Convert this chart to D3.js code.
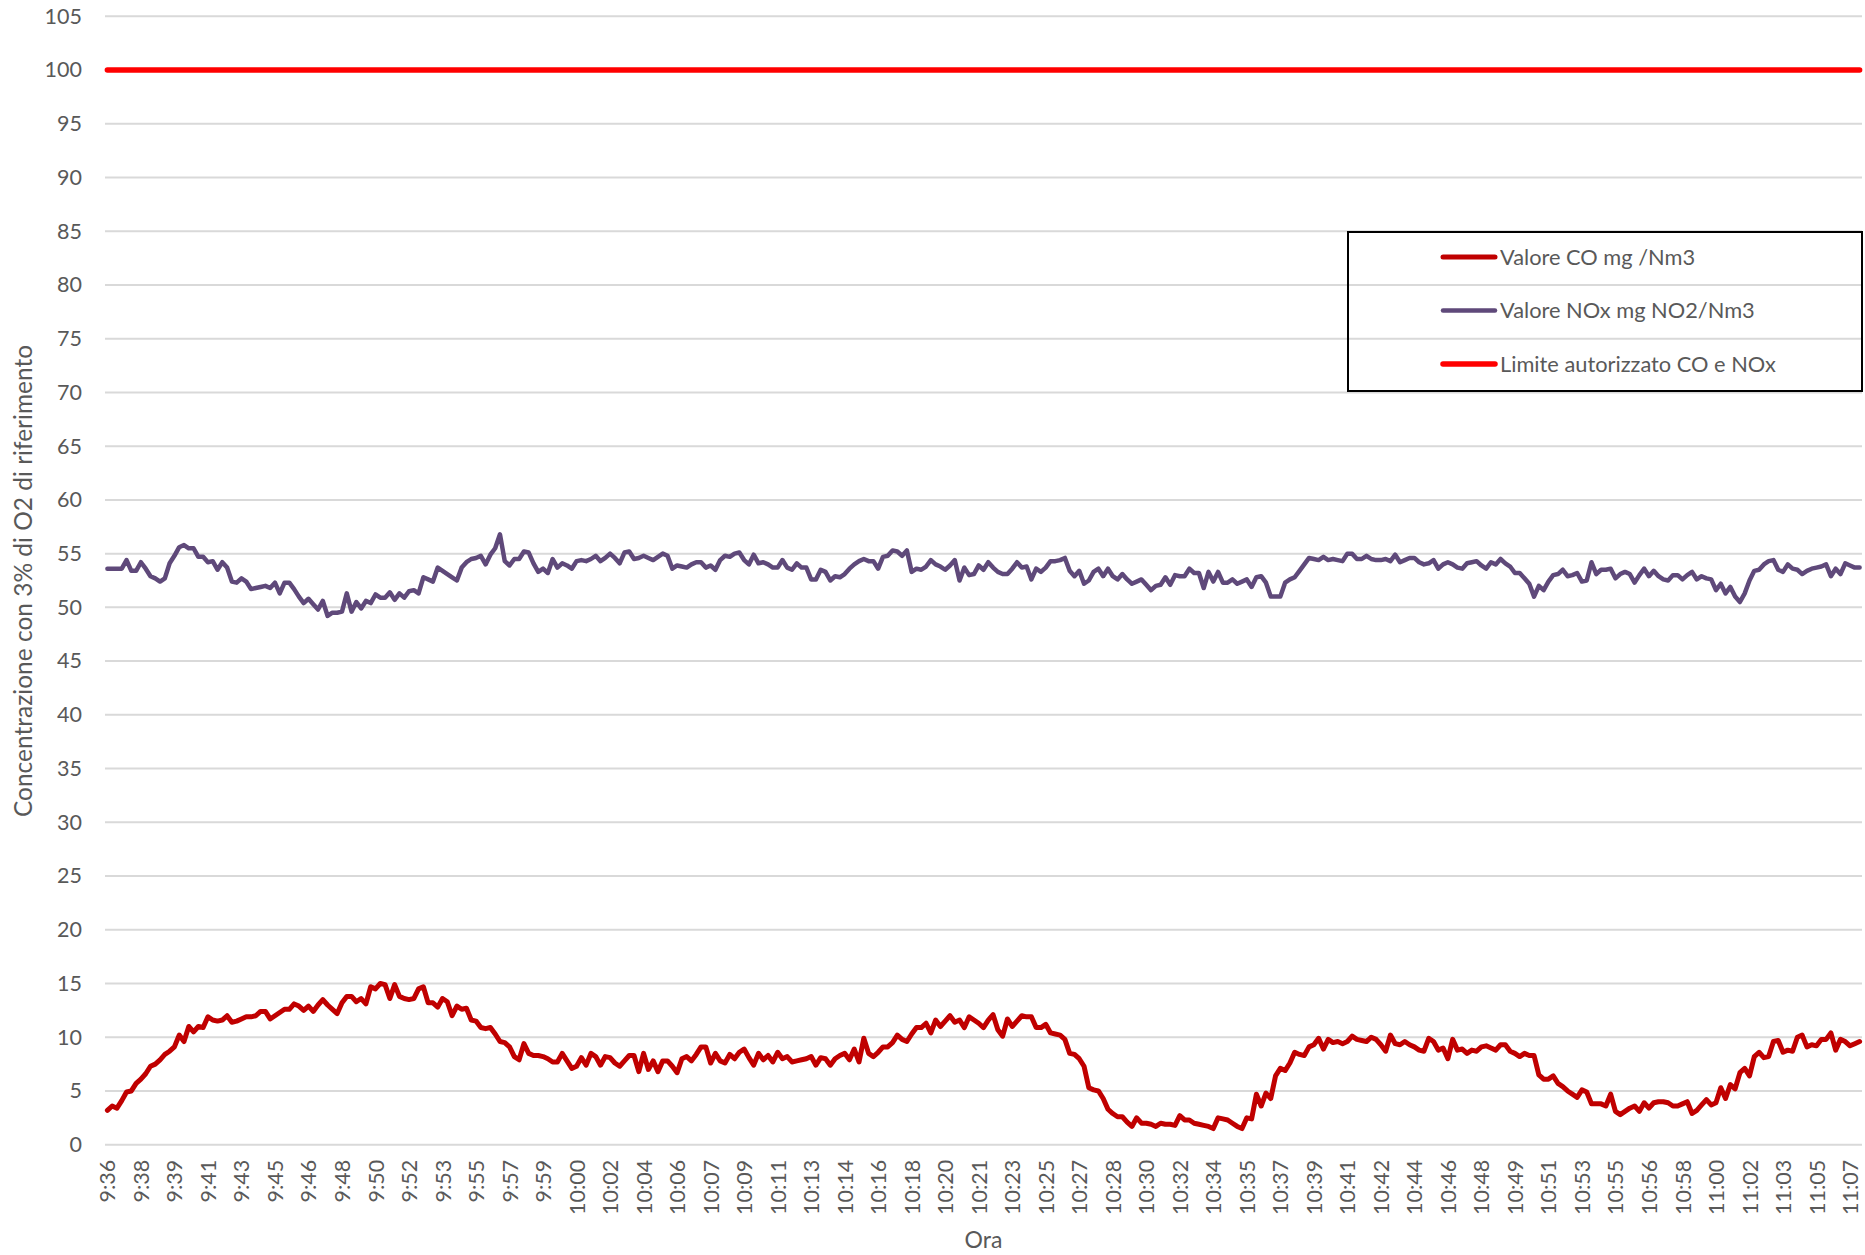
<!DOCTYPE html>
<html><head><meta charset="utf-8">
<script src="https://cdn.jsdelivr.net/npm/d3@7"></script>
<style>
body{margin:0;background:#fff}
svg{display:block}
text{font-family:Lato,"Open Sans",sans-serif;fill:#595959}
</style>
</head><body>
<svg id="chart" width="1865" height="1255"></svg>
<script>
const tickLabels = ["9:36","9:38","9:39","9:41","9:43","9:45","9:46","9:48","9:50","9:52","9:53","9:55","9:57","9:59",
"10:00","10:02","10:04","10:06","10:07","10:09","10:11","10:13","10:14","10:16","10:18","10:20","10:21","10:23","10:25","10:27",
"10:28","10:30","10:32","10:34","10:35","10:37","10:39","10:41","10:42","10:44","10:46","10:48","10:49","10:51","10:53","10:55",
"10:56","10:58","11:00","11:02","11:03","11:05","11:07"];
const tickStep = 7; // one label every 7 readings (15 s sampling)
const yTicks = [0,5,10,15,20,25,30,35,40,45,50,55,60,65,70,75,80,85,90,95,100,105];
const seriesNames = ["Valore CO mg /Nm3","Valore NOx mg NO2/Nm3","Limite autorizzato CO e NOx"];
const limitValue = 100;

const co = [
3.2,3.6,3.4,4.1,4.9,5.0,5.7,6.1,6.6,7.3,
7.5,7.9,8.4,8.7,9.1,10.2,9.6,11.0,10.5,11.0,
10.9,11.9,11.6,11.5,11.6,12.0,11.4,11.5,11.7,11.9,
11.9,12.0,12.4,12.4,11.7,12.0,12.3,12.6,12.6,13.1,
12.9,12.5,12.9,12.4,13.0,13.5,13.0,12.6,12.2,13.2,
13.8,13.8,13.3,13.6,13.1,14.7,14.5,15.0,14.9,13.6,
14.9,13.8,13.6,13.5,13.6,14.5,14.7,13.2,13.2,12.8,
13.6,13.3,12.0,12.9,12.6,12.7,11.6,11.5,10.9,10.8,
10.9,10.3,9.6,9.5,9.1,8.2,7.9,9.4,8.5,8.3,
8.3,8.2,8.0,7.7,7.7,8.5,7.8,7.1,7.3,8.1,
7.4,8.5,8.2,7.4,8.2,8.1,7.6,7.3,
7.8,8.3,8.3,6.8,8.5,7.0,7.8,6.8,7.8,7.8,
7.3,6.7,8.0,8.2,7.8,8.4,9.1,9.1,7.6,8.5,
7.8,7.6,8.4,8.0,8.6,8.9,8.1,7.4,8.5,7.9,
8.3,7.7,8.6,8.0,8.2,7.7,7.8,7.9,8.0,8.2,
7.4,8.1,8.0,7.4,8.0,8.3,8.5,7.9,8.9,7.7,
9.9,8.5,8.2,8.6,9.1,9.1,9.5,10.2,9.8,9.6,
10.3,10.9,10.9,11.3,10.4,11.6,11.0,11.5,12.0,11.4,
11.6,10.9,11.9,11.6,11.3,10.9,11.6,12.1,10.7,10.1,
11.7,11.0,11.5,12.0,11.9,11.9,10.9,10.9,11.2,10.4,
10.3,10.2,9.8,8.5,8.4,8.0,7.3,5.3,5.1,5.0,
4.3,3.3,2.9,2.6,2.6,2.1,1.7,2.5,2.0,2.0,
1.9,1.7,2.0,1.9,1.9,1.8,2.7,2.3,2.3,2.0,
1.9,1.8,1.7,1.5,2.5,2.4,2.3,2.0,1.7,1.5,
2.5,2.4,4.7,3.6,4.8,4.3,6.4,7.1,6.9,7.6,
8.6,8.4,8.3,9.1,9.3,9.9,8.9,9.8,9.5,9.6,
9.4,9.6,10.1,9.8,9.7,9.6,10.0,9.8,9.3,8.7,
10.2,9.4,9.3,9.6,9.3,9.1,8.8,8.7,9.9,9.6,
8.8,9.0,8.0,9.8,8.8,8.9,8.5,8.8,8.7,9.1,
9.2,9.0,8.8,9.3,9.3,8.7,8.5,8.2,8.5,8.3,
8.3,6.5,6.1,6.1,6.4,5.7,5.4,5.0,4.7,4.4,
5.1,4.9,3.8,3.8,3.8,3.6,4.7,3.1,2.8,3.1,
3.4,3.6,3.1,3.9,3.4,3.9,4.0,4.0,3.9,3.6,
3.6,3.8,4.0,2.9,3.2,3.7,4.2,3.7,3.9,5.3,
4.3,5.6,5.2,6.7,7.1,6.4,8.2,8.6,8.1,8.2,
9.6,9.7,8.6,8.8,8.7,10.0,10.2,9.1,9.3,9.2,
9.8,9.8,10.4,8.8,9.8,9.6,9.2,9.4,9.6
];

const nox = [
53.6,53.6,53.6,53.6,54.4,53.4,53.4,54.2,53.6,52.9,
52.7,52.4,52.7,54.1,54.8,55.6,55.8,55.5,55.5,54.7,
54.7,54.2,54.3,53.5,54.2,53.7,52.4,52.3,52.7,52.4,
51.7,51.8,51.9,52.0,51.8,52.3,51.3,52.3,52.3,51.7,
51.0,50.4,50.8,50.3,49.8,50.6,49.2,49.5,49.5,49.6,
51.3,49.6,50.5,49.9,50.6,50.4,51.2,50.9,50.9,51.4,
50.7,51.3,50.9,51.5,51.6,51.3,52.8,52.6,52.4,53.7,
53.4,53.1,52.8,52.5,53.7,54.2,54.5,54.6,54.8,54.0,
54.9,55.5,56.8,54.3,53.9,54.5,54.5,55.2,55.1,54.1,
53.3,53.6,53.2,54.5,53.7,54.1,53.9,53.6,54.3,54.4,
54.3,54.5,54.8,54.3,54.6,55.0,54.6,54.1,55.1,55.2,
54.5,54.6,54.8,54.6,54.4,54.7,55.0,54.8,53.6,53.9,
53.8,53.7,54.0,54.2,54.2,53.7,53.9,53.5,54.4,54.8,
54.7,55.0,55.1,54.4,54.0,54.9,54.1,54.2,54.0,53.7,
53.7,54.4,53.7,53.5,54.1,53.7,53.7,52.6,52.6,53.5,
53.3,52.5,52.9,52.8,53.1,53.6,54.0,54.3,54.5,54.3,
54.3,53.6,54.7,54.8,55.3,55.2,54.8,55.3,53.3,53.6,
53.5,53.8,54.4,54.0,53.8,53.5,53.9,54.4,52.5,53.7,
53.0,53.1,53.9,53.5,54.2,53.7,53.3,53.1,53.1,53.6,
54.2,53.7,53.8,52.6,53.6,53.3,53.7,54.3,54.3,54.4,
54.6,53.4,52.9,53.4,52.2,52.5,53.3,53.6,52.9,53.6,
52.9,52.6,53.1,52.6,52.2,52.4,52.6,52.1,51.6,52.0,
52.1,52.8,52.1,53.0,52.9,52.9,53.6,53.2,53.2,51.8,
53.3,52.4,53.3,52.3,52.3,52.6,52.2,52.4,52.6,51.9,
52.8,52.9,52.3,51.0,51.0,51.0,52.3,52.6,52.8,53.4,
54.0,54.6,54.5,54.4,54.7,54.4,54.5,54.4,54.3,55.0,
55.0,54.5,54.5,54.8,54.5,54.4,54.4,54.5,54.3,54.9,
54.2,54.4,54.6,54.6,54.2,54.0,54.1,54.4,53.6,54.0,
54.2,54.0,53.7,53.6,54.1,54.2,54.3,53.9,53.6,54.2,
54.0,54.5,54.1,53.8,53.2,53.2,52.7,52.2,51.0,52.0,
51.6,52.4,53.0,53.1,53.5,52.9,53.0,53.2,52.4,52.5,
54.2,53.1,53.5,53.5,53.6,52.7,53.1,53.3,53.1,52.3,
53.0,53.6,52.9,53.4,52.9,52.6,52.5,53.0,53.0,52.6,
53.0,53.3,52.6,52.9,52.7,52.6,51.6,52.2,51.3,51.9,
51.0,50.5,51.3,52.5,53.4,53.5,54.0,54.3,54.4,53.5,
53.3,54.0,53.6,53.5,53.1,53.4,53.6,53.7,53.8,54.0,
52.9,53.6,53.1,54.1,53.9,53.7,53.7
];

const N = co.length;
const limit = co.map(() => limitValue);

const svg = d3.select("#chart");
const left = 105, right = 1862;
const x = d3.scaleLinear().domain([-0.5, N - 0.5]).range([left, right]);
const y = d3.scaleLinear().domain([0, 105]).range([1144.7, 16.3]);

// gridlines
svg.append("g").selectAll("line").data(yTicks).join("line")
  .attr("x1", left).attr("x2", right)
  .attr("y1", d => y(d)).attr("y2", d => y(d))
  .attr("stroke", "#d9d9d9").attr("stroke-width", 2);

// y axis
const yAxis = svg.append("g").attr("transform", `translate(${left},0)`)
  .call(d3.axisLeft(y).tickValues(yTicks).tickSize(0).tickPadding(23));
yAxis.select(".domain").remove();
yAxis.selectAll("text").attr("font-size", 21.5).attr("fill", "#595959")
  .style("font-family", "Lato, 'Open Sans', sans-serif");

// x axis
const tickIdx = tickLabels.map((_, k) => k * tickStep);
const xAxis = svg.append("g").attr("transform", `translate(0,${y(0)})`)
  .call(d3.axisBottom(x).tickValues(tickIdx).tickSize(0)
    .tickFormat((d, i) => tickLabels[i]));
xAxis.select(".domain").remove();
xAxis.selectAll("text")
  .attr("transform", "rotate(-90)")
  .attr("x", -15).attr("y", 0).attr("dy", "0.35em")
  .attr("text-anchor", "end")
  .attr("font-size", 21.5).attr("fill", "#595959")
  .style("font-family", "Lato, 'Open Sans', sans-serif");

// lines
const line = d3.line().x((d, i) => x(i)).y(d => y(d));
const colors = ["#C00000", "#5F497A", "#FF0000"];
const widths = [5, 4.5, 5.5];
[co, nox, limit].forEach((s, k) => {
  svg.append("path").datum(s)
    .attr("d", line)
    .attr("fill", "none")
    .attr("stroke", colors[k])
    .attr("stroke-width", widths[k])
    .attr("stroke-linejoin", "round")
    .attr("stroke-linecap", "round");
});

// legend
const lg = svg.append("g");
lg.append("rect").attr("x", 1348).attr("y", 232).attr("width", 514).attr("height", 159)
  .attr("fill", "none").attr("stroke", "#000").attr("stroke-width", 2);
const rowY = [257, 310.5, 364];
seriesNames.forEach((name, k) => {
  lg.append("line").attr("x1", 1443).attr("x2", 1495)
    .attr("y1", rowY[k]).attr("y2", rowY[k])
    .attr("stroke", colors[k]).attr("stroke-width", widths[k])
    .attr("stroke-linecap", "round");
  lg.append("text").attr("x", 1500).attr("y", rowY[k]).attr("dy", "0.35em")
    .attr("font-size", 21.8).text(name);
});

// axis titles
svg.append("text").attr("transform", "translate(32,581) rotate(-90)")
  .attr("text-anchor", "middle").attr("font-size", 24.5)
  .text("Concentrazione con 3% di O2 di riferimento");
svg.append("text").attr("x", (left + right) / 2).attr("y", 1248)
  .attr("text-anchor", "middle").attr("font-size", 23).text("Ora");
</script>
</body></html>
